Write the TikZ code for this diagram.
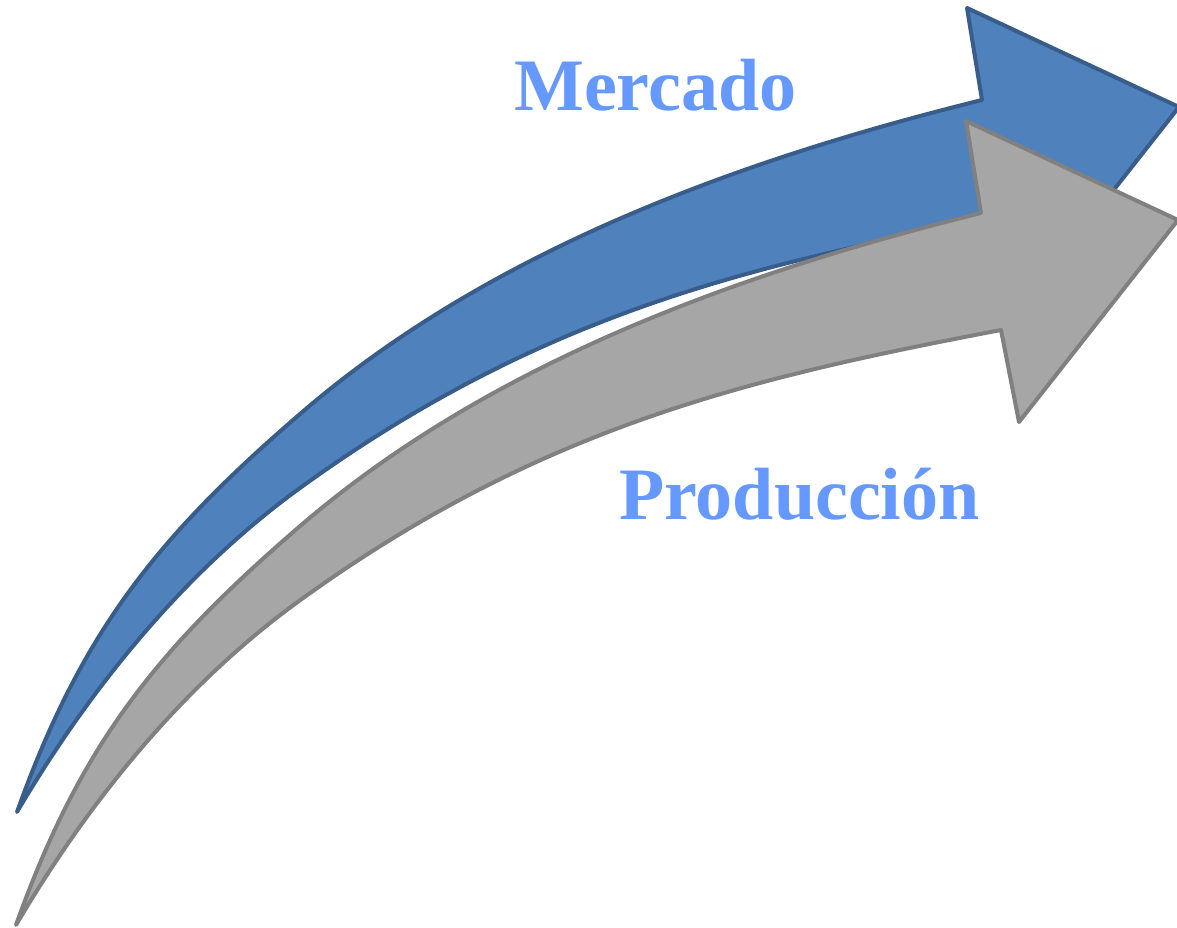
\documentclass[tikz,border=0pt]{standalone}
\usepackage{fontspec}
\setmainfont{Liberation Serif}
\definecolor{bfill}{HTML}{4F81BD}
\definecolor{bline}{HTML}{385D8A}
\definecolor{gfill}{HTML}{A6A6A6}
\definecolor{gline}{HTML}{808080}
\definecolor{txt}{HTML}{6699FF}
\newcommand{\myarrow}[1]{%
  \draw[#1] (17,812) .. controls (81,633) and (156,538) .. (300,414)
    .. controls (489,250.5) and (739.5,160) .. (982,100)
    -- (967,8) -- (1179,107) -- (1020,309) -- (1002,217)
    .. controls (755.5,264) and (543,312) .. (300,488)
    .. controls (184,572) and (89.5,688.7) .. (17,812)
    -- cycle;}
\tikzset{
  bluearrow/.style={fill=bfill, draw=bline, line width=4pt, line join=round},
  grayarrow/.style={fill=gfill, draw=gline, line width=4pt, line join=round},
  label/.style={font=\bfseries\fontsize{74}{80}\selectfont, text=txt, inner sep=0pt, anchor=base west}
}
\begin{document}
\begin{tikzpicture}[x=1pt,y=-1pt]
\useasboundingbox (0,0) rectangle (1177,928);
\myarrow{bluearrow}
\myarrow{grayarrow, shift={(-1,113)}}
\node[label] (mercado) at (514,111) {Mercado};
\node[label] (produccion) at (619,519) {Producción};
\end{tikzpicture}
\end{document}
